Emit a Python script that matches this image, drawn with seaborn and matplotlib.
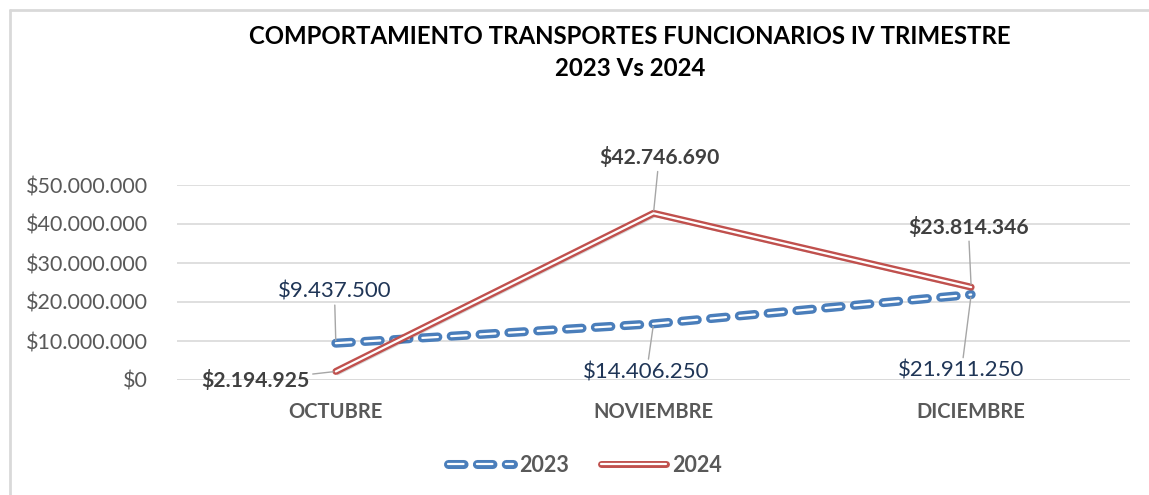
import matplotlib
matplotlib.use('Agg')
import matplotlib.pyplot as plt
import matplotlib.patheffects as pe
from matplotlib.lines import Line2D
import seaborn as sns
import pandas as pd

meses = ['OCTUBRE', 'NOVIEMBRE', 'DICIEMBRE']
valores_2023 = [9437500, 14406250, 21911250]
valores_2024 = [2194925, 42746690, 23814346]
series = ['2023', '2024']
y_ticks = [0, 10000000, 20000000, 30000000, 40000000, 50000000]

AZUL = '#4a7ebb'
ROJO = '#c0504d'
GRIS = '#595959'


def pesos(v):
    return '$' + f'{v:,.0f}'.replace(',', '.')


df = pd.DataFrame({
    'mes': meses * 2,
    'valor': valores_2023 + valores_2024,
    'serie': ['2023'] * 3 + ['2024'] * 3,
})
df['x'] = df['mes'].map({m: i for i, m in enumerate(meses)})

sns.set_style('white')
plt.rcParams['font.family'] = ['Lato', 'DejaVu Sans']

fig = plt.figure(figsize=(11.49, 4.95), dpi=100)
ax = fig.add_axes([177 / 1149, 1 - 380 / 495, (1130 - 177) / 1149, (380 - 185) / 495])

sombra = [pe.SimpleLineShadow(offset=(1.5, -2), alpha=0.15, rho=0.3)]
DASH = [7, 6]

sns.lineplot(data=df[df['serie'] == '2023'], x='x', y='valor', ax=ax, color='white',
             linewidth=1.6, legend=False, estimator=None, sort=False)
sns.lineplot(data=df[df['serie'] == '2024'], x='x', y='valor', ax=ax, color='white',
             linewidth=1.6, legend=False, estimator=None, sort=False)
l23, l24 = ax.lines[0], ax.lines[1]
l23.set_dashes(DASH)
l23.set_dash_capstyle('round')
l23.set_path_effects(sombra + [pe.Stroke(linewidth=6.5, foreground=AZUL), pe.Normal()])
l24.set_solid_capstyle('round')
l24.set_path_effects(sombra + [pe.Stroke(linewidth=5, foreground=ROJO), pe.Normal()])
l23.set_zorder(3)
l24.set_zorder(4)

ax.set_xlim(-0.5, len(meses) - 0.5)
ax.set_ylim(0, 50000000)
ax.set_yticks(y_ticks)
ax.set_yticklabels([pesos(v) for v in y_ticks], fontsize=15.5, color=GRIS)
ax.set_xticks(range(len(meses)))
ax.set_xticklabels(meses, fontsize=14.5, fontweight='bold', color=GRIS)
ax.tick_params(axis='y', pad=21, length=0)
ax.tick_params(axis='x', pad=16, length=0)
ax.grid(axis='y', color='#d9d9d9', linewidth=1.2)
ax.set_xlabel('')
ax.set_ylabel('')
for s in ax.spines.values():
    s.set_visible(False)
ax.axhline(0, color='#d9d9d9', linewidth=1.2, zorder=1)

# etiquetas de datos (desplazamientos en puntos)
lider = dict(arrowstyle='-', color='#a6a6a6', lw=1, shrinkA=0, shrinkB=2)
off_2023 = [(-1, 37), (-5, -35), (-7, -55)]
off_2024 = [(-19, -6.5), (4, 40), (-2, 43)]
for i, v in enumerate(valores_2023):
    ax.annotate(pesos(v), (i, v), xytext=off_2023[i], textcoords='offset points',
                ha='center', va='center', fontsize=16, color='#1f3556',
                arrowprops=lider, zorder=6)
for i, v in enumerate(valores_2024):
    ax.annotate(pesos(v), (i, v), xytext=off_2024[i], textcoords='offset points',
                ha='right' if i == 0 else 'center', va='center', fontsize=15.2,
                fontweight='bold', color='#404040', arrowprops=lider, zorder=6)

fig.text(630 / 1149, 1 - 36 / 495, 'COMPORTAMIENTO TRANSPORTES FUNCIONARIOS IV TRIMESTRE',
         ha='center', va='center', fontsize=17.3, fontweight='bold', color='black')
fig.text(630 / 1149, 1 - 69 / 495, '2023 Vs 2024',
         ha='center', va='center', fontsize=17.3, fontweight='bold', color='black')

# leyenda
h23 = Line2D([0], [0], color='white', lw=1.6, dashes=DASH, dash_capstyle='round',
             path_effects=[pe.Stroke(linewidth=6.5, foreground=AZUL), pe.Normal()])
h24 = Line2D([0], [0], color='white', lw=1.6, solid_capstyle='round',
             path_effects=[pe.Stroke(linewidth=5, foreground=ROJO), pe.Normal()])
leg = fig.legend([h23, h24], series, loc='center', bbox_to_anchor=(585 / 1149, 1 - 465 / 495),
                 ncol=2, frameon=False, handlelength=3.0, handletextpad=0.3, columnspacing=1.5,
                 prop={'size': 15.5, 'weight': 'bold'})
for t in leg.get_texts():
    t.set_color(GRIS)

# borde del grafico
fig.add_artist(Line2D([10 / 1149, 1], [1 - 10 / 495] * 2, color='#d9d9d9', lw=2,
                      transform=fig.transFigure))
fig.add_artist(Line2D([10 / 1149] * 2, [0, 1 - 10 / 495], color='#d9d9d9', lw=2,
                      transform=fig.transFigure))

fig.savefig('out.png', dpi=100)
